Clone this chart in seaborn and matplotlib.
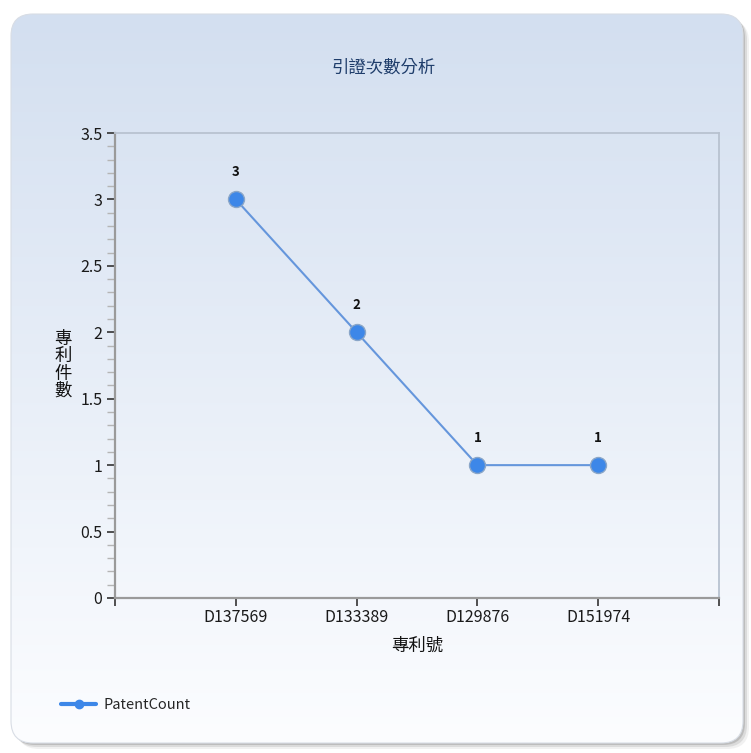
import numpy as np
import matplotlib.pyplot as plt
from matplotlib.patches import FancyBboxPatch
from matplotlib.lines import Line2D
from matplotlib.ticker import MultipleLocator, FormatStrFormatter
import seaborn as sns

# data
patents = ["D137569", "D133389", "D129876", "D151974"]
counts = [3, 2, 1, 1]

sns.set_style("white")
plt.rcParams['font.family'] = ['Noto Sans CJK TC', 'DejaVu Sans']

W, H = 751, 753
fig = plt.figure(figsize=(W / 100, H / 100), dpi=100)

# background panel (rounded, gradient, shadow)
bg = fig.add_axes([0, 0, 1, 1])
bg.set_xlim(0, W)
bg.set_ylim(H, 0)
bg.axis('off')

for off, a in [(6, 0.10), (4, 0.18), (2, 0.30)]:
    sh = FancyBboxPatch((11 + off, 14 + off), 732, 729, boxstyle="round,pad=0,rounding_size=22",
                        fc='#7a7a7a', ec='none', alpha=a, zorder=0.1)
    bg.add_patch(sh)

# white base under gradient so the shadow does not show through
base = FancyBboxPatch((11, 14), 732, 729, boxstyle="round,pad=0,rounding_size=22",
                      fc='white', ec='none', zorder=0.3)
bg.add_patch(base)
panel = FancyBboxPatch((11, 14), 732, 729, boxstyle="round,pad=0,rounding_size=22",
                       fc='none', ec='#d8dde5', lw=0.8, zorder=1)
bg.add_patch(panel)
top_c = np.array([211, 223, 240]) / 255
bot_c = np.array([252, 253, 255]) / 255
t = np.linspace(0, 1, 256)[:, None, None]
grad = top_c * (1 - t) + bot_c * t
im = bg.imshow(grad, extent=(11, 743, 743, 14), origin='upper', aspect='auto', zorder=0.5)
im.set_clip_path(panel)

# main chart
ax = fig.add_axes([115 / W, 1 - 598 / H, 604 / W, 465 / H])
ax.patch.set_alpha(0)

sns.lineplot(x=patents, y=counts, sort=False, ax=ax, color='#6596dc', lw=1.5,
             marker='o', markersize=11.5, markerfacecolor='#3d87e8',
             markeredgecolor='#8aa6c8', markeredgewidth=1.0, zorder=3)

for i, v in enumerate(counts):
    ax.annotate(str(v), (i, v), xytext=(0, 19.5), textcoords='offset points',
                ha='center', va='center', fontsize=9.5, fontweight='bold', color='#111111')

ax.set_xlim(-1, 4)
ax.set_ylim(0, 3.5)
ax.set_xticks(range(-1, 5))
ax.set_xticklabels([''] + patents + [''])
ax.yaxis.set_major_locator(MultipleLocator(0.5))
ax.yaxis.set_minor_locator(MultipleLocator(0.1))
ax.yaxis.set_major_formatter(FormatStrFormatter('%g'))
ax.tick_params(axis='both', which='major', direction='out', length=6, width=1.2,
               color='#333333', labelsize=11.5, labelcolor='#1a1a1a', pad=3)
ax.tick_params(axis='y', which='minor', direction='out', length=6, width=1.0,
               color='#b5b5b5', left=True)
ax.tick_params(axis='x', which='major', bottom=True, pad=2)
ax.tick_params(axis='y', which='major', left=True)

for s in ['left', 'bottom']:
    ax.spines[s].set_color('#9a9a9a')
    ax.spines[s].set_linewidth(1.6)
for s in ['top', 'right']:
    ax.spines[s].set_color('#b8c2d0')
    ax.spines[s].set_linewidth(1.3)

ax.set_xlabel('專利號', fontsize=12.5, color='#111111', labelpad=8)
ax.set_ylabel('')
fig.text(63 / W, 1 - 365 / H, '專\n利\n件\n數', fontsize=12.5, ha='center', va='center',
         linespacing=0.95, color='#111111')

fig.text(384 / W, 1 - 68 / H, '引證次數分析', fontsize=12.5, ha='center', va='center',
         color='#1f3d6b')

handle = Line2D([], [], color='#3d87e8', lw=3, marker='o', markersize=6)
fig.legend(handles=[handle], labels=['PatentCount'], loc='center left',
           bbox_to_anchor=(48 / W, 1 - 705 / H), frameon=False, handlelength=2.4,
           handletextpad=0.5, fontsize=10.5)

plt.savefig('out.png', dpi=100)
